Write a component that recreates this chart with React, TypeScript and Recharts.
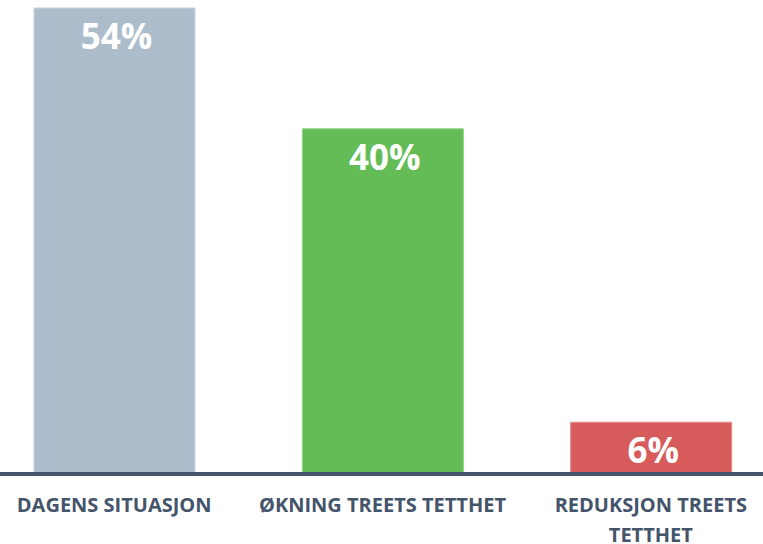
import { Bar, BarChart, Cell, LabelList, XAxis, YAxis } from 'recharts'

const categories = ['DAGENS SITUASJON', 'ØKNING TREETS TETTHET', 'REDUKSJON TREETS\nTETTHET']
const shares = [54, 40, 6]
const barColors = ['#adbccb', '#64bc56', '#d75b5b']
const barEdges = ['#c8d3dd', '#92d187', '#e58e8e']

const data = categories.map((name, i) => ({ name, value: shares[i] }))

const font = '"Open Sans", "DejaVu Sans", sans-serif'

function CategoryTick(props: any) {
  const { x, y, payload } = props
  const lines = String(payload.value).split('\n')
  return (
    <g transform={`translate(${x},${y})`}>
      {lines.map((line, i) => (
        <text
          key={i}
          x={0}
          y={30 + i * 30}
          textAnchor="middle"
          fill="#44546a"
          fontFamily={font}
          fontWeight={700}
          fontSize={20}
        >
          {line}
        </text>
      ))}
    </g>
  )
}

function ValueLabel(props: any) {
  const { x, y, width, value } = props
  return (
    <text
      x={x + width / 2 + 2}
      y={y + 41}
      textAnchor="middle"
      fill="#ffffff"
      fontFamily={font}
      fontWeight={700}
      fontSize={35}
    >
      {value}%
    </text>
  )
}

export default function App() {
  return (
    <div
      style={{
        position: 'absolute',
        left: 0,
        top: 0,
        width: 763,
        height: 544,
        overflow: 'hidden',
        background: '#fff',
      }}
    >
      <div style={{ position: 'absolute', left: -20, top: 0 }}>
        <BarChart
          width={805}
          height={544}
          data={data}
          margin={{ top: 8, right: 0, bottom: 0, left: 0 }}
          barSize={161}
        >
          <YAxis hide domain={[0, 54]} />
          <XAxis
            dataKey="name"
            axisLine={{ stroke: '#44546a', strokeWidth: 4 }}
            tickLine={false}
            height={70}
            interval={0}
            tick={<CategoryTick />}
          />
          <Bar dataKey="value" isAnimationActive={false}>
            {data.map((d, i) => (
              <Cell key={d.name} fill={barColors[i]} stroke={barEdges[i]} strokeWidth={1} />
            ))}
            <LabelList dataKey="value" content={<ValueLabel />} />
          </Bar>
        </BarChart>
      </div>
    </div>
  )
}
